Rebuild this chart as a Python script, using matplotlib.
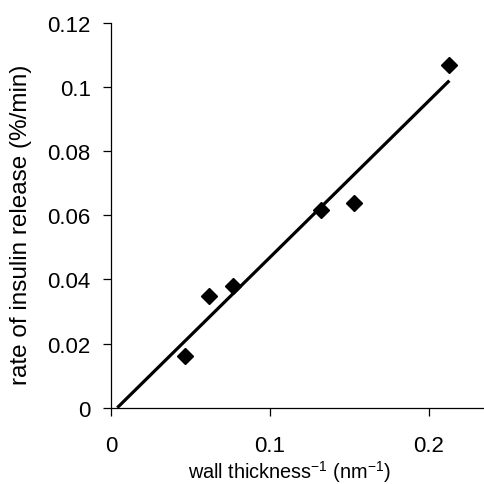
import matplotlib
matplotlib.use('Agg')
import matplotlib.pyplot as plt
import numpy as np

# data
inv_thickness = [0.0465, 0.0616, 0.0769, 0.1321, 0.1528, 0.2128]
release_rate = [0.0162, 0.0349, 0.0381, 0.0618, 0.0639, 0.1070]
xticks = [0, 0.1, 0.2]
xtick_labels = ['0', '0.1', '0.2']
yticks = [0, 0.02, 0.04, 0.06, 0.08, 0.1, 0.12]
ytick_labels = ['0', '0.02', '0.04', '0.06', '0.08', '0.1', '0.12']

plt.rcParams['font.family'] = ['Liberation Sans', 'DejaVu Sans']
plt.rcParams['mathtext.fontset'] = 'custom'
plt.rcParams['mathtext.rm'] = 'Liberation Sans'
plt.rcParams['mathtext.it'] = 'Liberation Sans'

fig = plt.figure(figsize=(4.85, 4.85), dpi=100)
ax = fig.add_axes([111 / 485, 1 - 408.7 / 485, 1 - 111 / 485, (408.7 - 24) / 485])

# linear trendline (least squares), drawn from x-intercept to last point
slope, intercept = np.polyfit(inv_thickness, release_rate, 1)
x0 = -intercept / slope
x_fit = np.array([x0, max(inv_thickness)])
ax.plot(x_fit, slope * x_fit + intercept, color='black', lw=2.3,
        solid_capstyle='butt', clip_on=False)

ax.plot(inv_thickness, release_rate, linestyle='none', marker='D',
        color='black', markersize=8.5, clip_on=False)

ax.set_xlim(0, (485 - 111) / 1590)
ax.set_ylim(0, 0.12)
ax.set_xticks(xticks)
ax.set_xticklabels(xtick_labels)
ax.set_yticks(yticks)
ax.set_yticklabels(ytick_labels)

for side in ['top', 'right']:
    ax.spines[side].set_visible(False)
for side in ['left', 'bottom']:
    ax.spines[side].set_linewidth(0.9)

ax.tick_params(direction='out', length=5.5, width=0.9, labelsize=16, pad=9)
ax.tick_params(axis='x', pad=14)

ax.set_xlabel(r'wall thickness$^{\mathregular{-1}}$ (nm$^{\mathregular{-1}}$)',
              fontsize=14.3)
ax.xaxis.set_label_coords(0.477, -0.13)
ax.set_ylabel('rate of insulin release (%/min)', fontsize=17.5)
ax.yaxis.set_label_coords(-0.21, 0.477)

fig.savefig('out.png', dpi=100)
